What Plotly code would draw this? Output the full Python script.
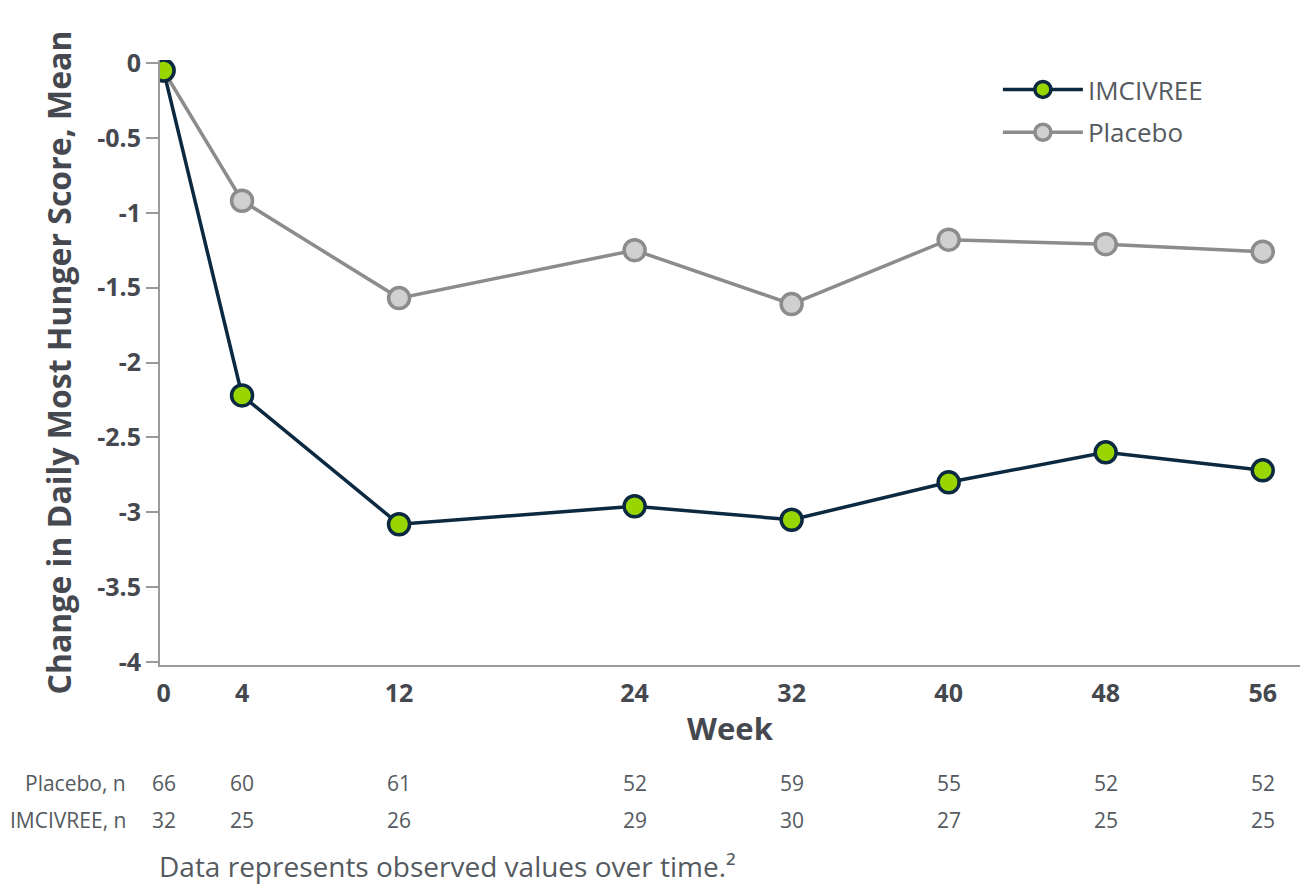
import plotly.graph_objects as go

weeks = [0, 4, 12, 24, 32, 40, 48, 56]
imcivree = [-0.05, -2.22, -3.08, -2.96, -3.05, -2.80, -2.60, -2.72]
placebo = [-0.05, -0.92, -1.57, -1.25, -1.61, -1.18, -1.21, -1.26]
placebo_n = [66, 60, 61, 52, 59, 55, 52, 52]
imcivree_n = [32, 25, 26, 29, 30, 27, 25, 25]
y_ticks = [0, -0.5, -1, -1.5, -2, -2.5, -3, -3.5, -4]
y_ticklabels = ["0", "-0.5", "-1", "-1.5", "-2", "-2.5", "-3", "-3.5", "-4"]

FONT = "Open Sans"
TXT = "#45494f"
TXT2 = "#555a60"

fig = go.Figure()
fig.add_trace(go.Scatter(
    x=weeks, y=placebo, name="Placebo", mode="lines+markers", legendgroup="p",
    legendrank=2,
    line=dict(color="#8c8c8c", width=3.5),
    marker=dict(size=21, color="#d0d0d0", line=dict(color="#8c8c8c", width=3.5)),
))
fig.add_trace(go.Scatter(
    x=weeks, y=imcivree, name="IMCIVREE", mode="lines+markers", legendgroup="i",
    legendrank=1,
    line=dict(color="#0b2940", width=3.5),
    marker=dict(size=21, color="#99d600", line=dict(color="#0b2940", width=3.5)),
))

label_x = (128 - 160) / 1140
annotations = []
row_y = [(-0.195, "Placebo, n", placebo_n), (-0.257, "IMCIVREE, n", imcivree_n)]
for yy, label, vals in row_y:
    annotations.append(dict(x=label_x, y=yy, xref="paper", yref="paper", text=label,
                            showarrow=False, xanchor="right", yanchor="middle",
                            font=dict(family=FONT, size=21, color=TXT2)))
    for w, v in zip(weeks, vals):
        annotations.append(dict(x=w, y=yy, xref="x", yref="paper", text=str(v),
                                showarrow=False, xanchor="center", yanchor="middle",
                                font=dict(family=FONT, size=21, color=TXT2)))
annotations.append(dict(x=-0.003, y=-0.333, xref="paper", yref="paper",
                        text="Data represents observed values over time.²",
                        showarrow=False, xanchor="left", yanchor="middle",
                        font=dict(family=FONT, size=28, color=TXT2)))

fig.update_layout(
    width=1300, height=888,
    margin=dict(l=160, r=0, t=60, b=223),
    paper_bgcolor="white", plot_bgcolor="white",
    font=dict(family=FONT, color=TXT),
    showlegend=True,
    legend=dict(x=0.735, y=0.99, xanchor="left", yanchor="top",
                traceorder="grouped", itemwidth=80,
                font=dict(family=FONT, size=26, color=TXT2),
                bgcolor="rgba(0,0,0,0)", tracegroupgap=6),
    xaxis=dict(range=[-0.18, 57.9], tickvals=weeks, ticktext=[str(w) for w in weeks],
               showgrid=False, zeroline=False, showline=True, linecolor="#9a9a9a",
               linewidth=2, ticks="", ticklabelstandoff=5,
               tickfont=dict(family=FONT, size=25, color=TXT, weight="bold"),
               title=dict(text="Week", standoff=10,
                          font=dict(family=FONT, size=31, color=TXT, weight="bold"))),
    yaxis=dict(range=[-4.02, 0.02], tickvals=y_ticks, ticktext=y_ticklabels,
               showgrid=False, zeroline=False, showline=True, linecolor="#9a9a9a",
               linewidth=2, ticks="outside", ticklen=12, tickcolor="#9a9a9a", tickwidth=2,
               tickfont=dict(family=FONT, size=25, color=TXT, weight="bold"),
               title=dict(text="Change in Daily Most Hunger Score, Mean", standoff=16,
                          font=dict(family=FONT, size=32, color=TXT, weight="bold"))),
    annotations=annotations,
)

fig.write_html("out.html")
